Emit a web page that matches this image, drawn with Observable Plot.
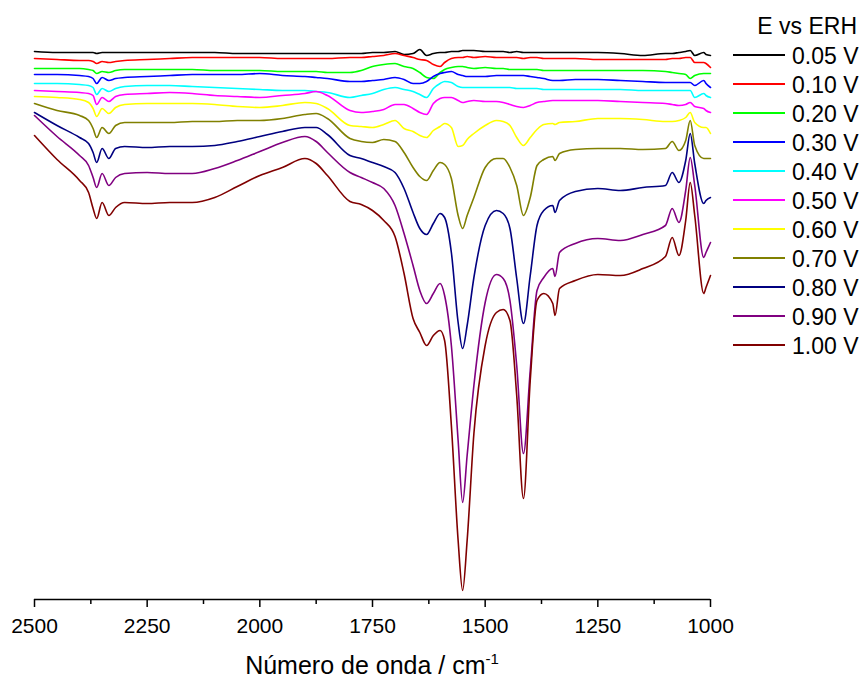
<!DOCTYPE html>
<html>
<head>
<meta charset="utf-8">
<script src="https://cdn.jsdelivr.net/npm/d3@7"></script>
<script src="https://cdn.jsdelivr.net/npm/@observablehq/plot@0.6"></script>
<style>
  body { margin: 0; background: #fff; }
  #wrap { position: relative; width: 862px; height: 680px; font-family: "Liberation Sans", Arial, sans-serif; }
  #overlay { position: absolute; left: 0; top: 0; pointer-events: none; }
</style>
</head>
<body>
<div id="wrap"></div>
<script>
// Wavenumber grid (cm-1)
const wavenumber = [2500,2450,2400,2380,2370,2362,2350,2335,2320,2300,
  2250,2200,2150,2100,2050,2000,1950,1900,1875,1850,
  1800,1775,1750,1725,1700,1680,1660,1645,1630,1615,
  1600,1590,1575,1560,1550,1540,1525,1500,1475,1460,
  1445,1430,1415,1400,1385,1370,1350,1345,1335,1300,
  1250,1200,1150,1100,1085,1070,1055,1045,1035,1015,
  1010,1000];

// Legend labels and colours
const labels = ["0.05 V","0.10 V","0.20 V","0.30 V","0.40 V","0.50 V","0.60 V","0.70 V","0.80 V","0.90 V","1.00 V"];
const colors = ["#000000","#ff0000","#00ff00","#0000ff","#00ffff","#ff00ff","#ffff00","#808000","#000080","#800080","#800000"];

// Signal (arbitrary units, stacked as in the figure)
const s005 = [549,548,548,548,548,547,548,548,548,548,548,548,548,548,547,547,547,547,547,547,
  547,547,548,548,549,546,547,551,545,547,548,548,549,549,550,550,550,549,549,549,
  548,549,548,548,548,548,548,548,548,548,548,547,545,547,547,548,549,550,545,548,546,545];
const s010 = [542,541,540,540,539,537,539,538,539,540,541,542,543,543,543,543,542,542,542,542,
  543,543,544,545,547,545,543,541,540,536,534,538,542,543,543,544,543,544,543,543,
  543,543,542,543,543,542,542,542,542,542,541,541,541,541,542,542,543,543,538,538,537,533];
const s020 = [532,532,532,531,530,527,529,528,530,531,531,531,531,530,530,530,529,529,529,528,
  528,530,534,536,537,534,532,528,523,522,528,531,533,534,534,533,532,533,532,532,
  531,531,531,531,531,530,530,530,530,530,530,530,530,529,528,527,526,522,525,527,527,527];
const s030 = [526,526,525,524,522,517,523,520,522,523,524,525,526,526,526,527,525,524,523,522,
  519,519,520,521,523,521,517,517,519,524,527,528,529,526,525,524,524,524,525,525,
  525,525,525,524,523,522,520,520,520,521,521,520,519,518,518,518,518,518,515,520,517,513];
const s040 = [517,517,516,515,513,506,512,509,512,514,515,515,514,513,512,511,510,510,509,508,
  503,505,507,511,513,511,509,506,503,512,517,519,518,514,513,513,513,513,513,513,
  513,512,512,512,512,511,511,511,511,511,511,511,510,510,510,510,510,510,503,507,505,503];
const s050 = [510,509,508,507,505,496,503,499,504,506,507,508,507,505,504,503,505,507,509,505,
  490,488,489,491,496,496,492,488,486,497,502,503,503,500,498,499,500,499,499,498,
  496,494,493,495,498,499,500,500,500,500,500,499,498,497,496,495,496,498,494,492,490,488];
const s060 = [504,503,501,498,492,484,492,487,493,496,497,497,497,496,494,493,495,498,497,492,
  475,474,473,476,480,472,469,465,463,470,474,477,473,454,455,461,467,475,480,479,
  475,463,455,463,471,476,477,476,478,479,482,482,481,479,479,480,483,488,478,473,473,467];
const s070 = [497,490,485,480,472,463,473,467,475,478,478,478,479,479,480,480,482,486,487,482,
  462,459,458,461,459,448,433,424,420,430,438,436,422,385,372,385,403,433,442,442,
  433,415,385,403,435,441,444,440,447,451,452,452,451,452,459,450,460,480,455,442,442,442];
const s080 = [488,475,463,457,448,438,452,442,452,454,453,454,454,455,459,464,469,473,473,466,
  445,442,438,434,428,412,388,372,366,377,387,383,348,278,252,275,323,375,390,387,
  372,322,277,325,375,390,395,388,400,409,412,410,413,415,428,418,440,467,437,397,400,403];
const s090 = [485,464,445,435,423,413,427,415,423,427,428,427,427,432,440,449,458,464,459,448,
  428,423,418,412,395,367,335,310,297,307,317,305,255,160,98,145,215,298,326,322,
  300,235,147,230,310,323,332,324,348,357,362,360,366,375,392,378,410,443,415,343,348,358];
const s100 = [465,441,420,408,392,382,398,385,393,398,397,398,398,403,414,425,433,442,437,425,
  399,396,390,380,364,327,282,268,255,265,270,260,175,60,10,60,167,255,288,291,
  280,205,102,220,300,307,297,285,312,320,326,325,332,344,363,345,380,418,385,307,313,325];

const seriesValues = [s005,s010,s020,s030,s040,s050,s060,s070,s080,s090,s100];

// Axis ticks
const majorTicks = [2500,2250,2000,1750,1500,1250,1000];
const minorTicks = [2375,2125,1875,1625,1375,1125];
const xDomain = [2500, 1000];
const yDomain = [1, 571];

const table = [];
seriesValues.forEach((vals, s) => {
  vals.forEach((v, i) => table.push({wn: wavenumber[i], v, label: labels[s]}));
});

const W = 862, H = 680, mL = 34, mR = 152, mT = 29, mB = 81;

const chart = Plot.plot({
  width: W, height: H,
  marginLeft: mL, marginRight: mR, marginTop: mT, marginBottom: mB,
  style: {fontFamily: '"Liberation Sans", Arial, sans-serif', fontSize: "21px", color: "#000", background: "#fff"},
  x: {domain: xDomain, axis: null},
  y: {domain: yDomain, axis: null},
  color: {domain: labels, range: colors},
  marks: [
    Plot.line(table, {x: "wn", y: "v", z: "label", stroke: "label", strokeWidth: 1.6, curve: "monotone-x"}),
    Plot.ruleY([yDomain[0]], {stroke: "#000", strokeWidth: 1.6}),
    Plot.axisX({ticks: majorTicks, tickSize: 8, tickPadding: 11, tickFormat: d => String(d), stroke: "#000", strokeWidth: 1.5, label: null}),
    Plot.axisX({ticks: minorTicks, tickSize: 5, tickFormat: () => "", stroke: "#000", strokeWidth: 1.5, label: null})
  ]
});

const wrap = document.getElementById("wrap");
wrap.appendChild(chart);

// Overlay: legend and axis title
const ov = d3.select(wrap).append("svg")
  .attr("id", "overlay").attr("width", W).attr("height", H)
  .style("font-family", '"Liberation Sans", Arial, sans-serif');

ov.append("text").attr("x", 857).attr("y", 34).attr("text-anchor", "end")
  .attr("font-size", 23).attr("fill", "#000").text("E vs ERH");

labels.forEach((lab, k) => {
  const y = 55 + 29 * k;
  ov.append("line").attr("x1", 733).attr("x2", 785).attr("y1", y).attr("y2", y)
    .attr("stroke", colors[k]).attr("stroke-width", 2);
  ov.append("text").attr("x", 792).attr("y", y + 8.5).attr("font-size", 23)
    .attr("fill", "#000").text(lab);
});

const t = ov.append("text").attr("x", (mL + (W - mR)) / 2).attr("y", 674)
  .attr("text-anchor", "middle").attr("font-size", 25).attr("fill", "#000");
t.append("tspan").text("Número de onda / cm");
t.append("tspan").attr("dy", -10).attr("font-size", 15).text("-1");
</script>
</body>
</html>
